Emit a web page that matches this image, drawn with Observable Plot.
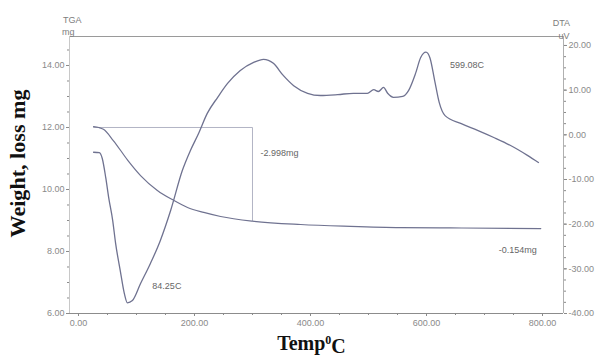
<!DOCTYPE html>
<html><head><meta charset="utf-8">
<script src="https://cdn.jsdelivr.net/npm/d3@7"></script>
<script src="https://cdn.jsdelivr.net/npm/@observablehq/plot@0.6"></script>
<style>body{margin:0;background:#fff}</style>
</head><body><div id="chart"></div>
<script>
// TGA curve (temperature °C, mass mg)
const tgaTemp = [26, 35, 43, 60, 85, 107, 136, 164, 188, 216, 245, 300, 383, 469, 555, 641, 797];
const tgaMass = [12.03, 12.0, 11.94, 11.58, 10.94, 10.45, 9.97, 9.65, 9.42, 9.26, 9.13, 8.98, 8.87, 8.81, 8.77, 8.76, 8.74];
// DTA curve (temperature °C, signal uV)
const dtaTemp = [26, 36, 41, 47, 52, 59, 64, 72, 79, 84.25, 93, 107, 124, 141, 159, 179, 193, 207, 222, 240, 257, 279, 302, 319, 336, 353, 371, 395, 417, 447, 474, 498, 509, 517, 526, 533, 543, 559, 569, 581, 590, 599.08, 606, 614, 622, 632, 660, 688, 716, 745, 774, 793];
const dtaSignal = [-3.9, -4.0, -5.3, -9.6, -14.0, -19.2, -24.3, -30.4, -35.5, -37.6, -37.1, -33.3, -28.8, -23.7, -16.9, -8.0, -3.5, 0.3, 4.8, 8.4, 11.5, 14.4, 16.2, 16.9, 16.0, 13.3, 11.0, 9.3, 8.8, 9.0, 9.3, 9.3, 10.1, 9.7, 10.6, 9.3, 8.4, 8.6, 9.9, 13.7, 17.3, 18.5, 17.2, 12.2, 7.2, 4.3, 2.5, 1.0, -0.6, -2.4, -4.6, -6.2];
// Tick labels
const xTicks = [0, 200, 400, 600, 800];
const tgaTicks = [6, 8, 10, 12, 14];
const dtaTicks = [20, 10, 0, -10, -20, -30, -40];
// Annotations
const peakLabels = ["84.25C", "599.08C"];
const stepLoss = 2.998, stepEnd = 300;
const tailLoss = 0.154, tailEnd = 800;

const xDomain = [-15.5, 836.2];
const tgaDomain = [6, 14.935];
const dtaDomain = [-40, 22.01];
const K = (tgaDomain[1] - tgaDomain[0]) / (dtaDomain[1] - dtaDomain[0]);
const toMg = d => tgaDomain[0] + (d - dtaDomain[0]) * K;
const fromMg = m => dtaDomain[0] + (m - tgaDomain[0]) / K;

const tga = tgaTemp.map((t, i) => ({T: t, mg: tgaMass[i]}));
const dta = dtaTemp.map((t, i) => ({T: t, mg: toMg(dtaSignal[i]), v: dtaSignal[i]}));
const minPt = dta.reduce((a, b) => (b.v < a.v ? b : a));
const maxPt = dta.reduce((a, b) => (b.v > a.v ? b : a));
const box = [
  {T: tga[0].T, mg: tga[0].mg - 0.03},
  {T: stepEnd, mg: tga[0].mg - 0.03},
  {T: stepEnd, mg: tga[0].mg - 0.03 - stepLoss}
];
const tgaEnd = tga[tga.length - 1];

const sans = "Liberation Sans, Arial, sans-serif";
const serif = "Liberation Serif, Times New Roman, serif";
const curveColor = "#6f7290";
const gray = "#7d7d7d";

const chart = Plot.plot({
  width: 600, height: 362,
  marginLeft: 69, marginRight: 37, marginTop: 36, marginBottom: 49,
  style: {color: "#8a8a8a", background: "#fff", fontFamily: sans},
  x: {domain: xDomain},
  y: {domain: tgaDomain},
  marks: [
    Plot.ruleY([tgaDomain[1]], {stroke: "#9a9a9a", strokeWidth: 1}),
    Plot.ruleY([tgaDomain[0]], {stroke: "#8c8c8c", strokeWidth: 1}),
    Plot.ruleX([xDomain[0]], {stroke: "#c8c8c8", strokeWidth: 1}),
    Plot.ruleX([xDomain[1]], {stroke: "#b0b0b0", strokeWidth: 1}),
    Plot.axisY(tgaTicks, {anchor: "left", tickSize: 3, tickPadding: 2, fontSize: 9, tickFormat: d => d.toFixed(2), label: null}),
    Plot.axisY(d3.range(6, 14.94, 0.5), {anchor: "left", tickSize: 2, tickFormat: () => "", label: null}),
    Plot.axisY(dtaTicks.map(toMg), {anchor: "right", tickSize: 3, tickPadding: 2, fontSize: 9, tickFormat: m => (Math.round(fromMg(m)) || 0).toFixed(2), label: null}),
    Plot.axisY(d3.range(-40, 22, 2.5).map(toMg), {anchor: "right", tickSize: 2, tickFormat: () => "", label: null}),
    Plot.axisX(xTicks, {tickSize: 3, tickPadding: 3, fontSize: 9, tickFormat: d => d.toFixed(2), label: null}),
    Plot.axisX(d3.range(0, 801, 50), {tickSize: 2, tickFormat: () => "", label: null}),
    Plot.line(box, {x: "T", y: "mg", stroke: "#a9abbd", strokeWidth: 0.9}),
    Plot.line(tga, {x: "T", y: "mg", stroke: curveColor, strokeWidth: 1.2, curve: "monotone-x"}),
    Plot.line(dta, {x: "T", y: "mg", stroke: curveColor, strokeWidth: 1.3, curve: "monotone-x"}),
    Plot.text([minPt], {x: "T", y: "mg", text: () => peakLabels[0], dx: 25, dy: -17, textAnchor: "start", fontSize: 9, fill: "#666", fontFamily: sans}),
    Plot.text([maxPt], {x: "T", y: "mg", text: () => peakLabels[1], dx: 24, dy: 13, textAnchor: "start", fontSize: 9, fill: "#666", fontFamily: sans}),
    Plot.text([box[1]], {x: "T", y: "mg", text: () => "-" + stepLoss.toFixed(3) + "mg", dx: 8, dy: 26, textAnchor: "start", fontSize: 9, fill: "#666", fontFamily: sans}),
    Plot.text([tgaEnd], {x: "T", y: "mg", text: () => "-" + tailLoss.toFixed(3) + "mg", dx: -4, dy: 22, textAnchor: "end", fontSize: 9, fill: "#666", fontFamily: sans}),
    Plot.text(["TGA"], {frameAnchor: "top-left", dx: -6.5, dy: -20, fontSize: 9, fill: gray, fontFamily: sans}),
    Plot.text(["mg"], {frameAnchor: "top-left", dx: -7.5, dy: -8, fontSize: 9, fill: gray, fontFamily: sans}),
    Plot.text(["DTA"], {frameAnchor: "top-right", dx: 6.5, dy: -17, fontSize: 9, fill: gray, fontFamily: sans}),
    Plot.text(["uV"], {frameAnchor: "top-right", dx: 6, dy: -4, fontSize: 9, fill: gray, fontFamily: sans}),
    Plot.text(["Weight, loss mg"], {frameAnchor: "left", dx: -50.5, dy: 62.5, rotate: -90, textAnchor: "start", fontSize: 20, fontWeight: "bold", fill: "#111", fontFamily: serif, className: "ytitle"}),
    Plot.text(["Temp"], {frameAnchor: "bottom", dx: -5, dy: 36, fontSize: 20, fontWeight: "bold", fill: "#111", fontFamily: serif, className: "xtitle"})
  ]
});
document.getElementById("chart").appendChild(chart);
d3.select(chart).selectAll(".ytitle text").attr("textLength", 148).attr("lengthAdjust", "spacingAndGlyphs");
d3.select(chart).selectAll(".xtitle text").each(function() {
  const t = d3.select(this);
  t.append("tspan").attr("dy", "-0.45em").attr("font-size", 12).text("0");
  t.append("tspan").attr("dy", "0.45em").text("C");
});
</script>
</body></html>
